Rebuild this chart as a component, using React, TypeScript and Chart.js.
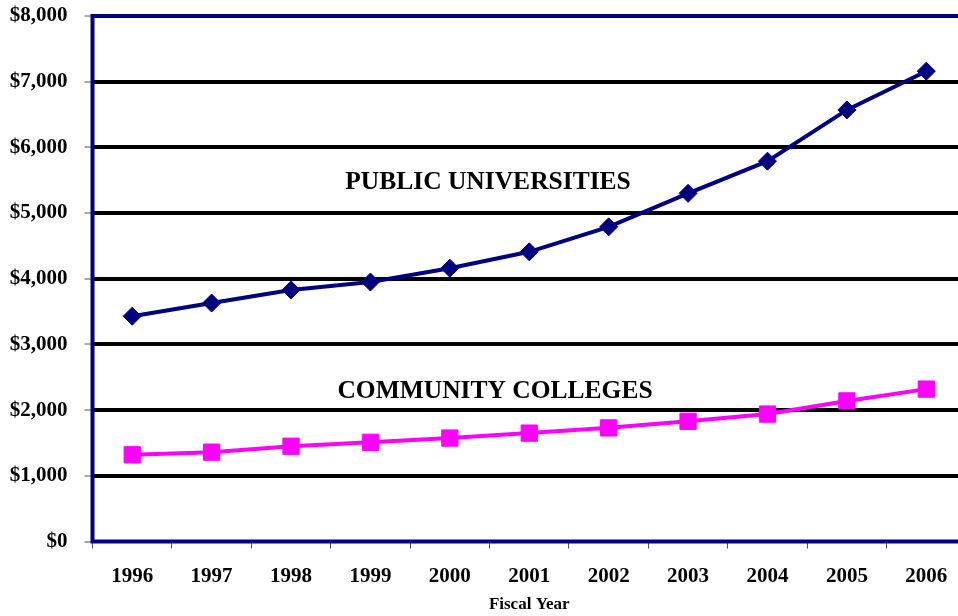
import React, { useEffect, useRef } from "react";
import { Chart, registerables } from "chart.js";

Chart.register(...registerables);

const years = ["1996", "1997", "1998", "1999", "2000", "2001", "2002", "2003", "2004", "2005", "2006"];
const publicUniversities = [3430, 3630, 3830, 3950, 4160, 4410, 4790, 5300, 5790, 6570, 7160];
const communityColleges = [1320, 1360, 1450, 1510, 1575, 1650, 1730, 1830, 1940, 2140, 2320];
const yTickValues = [0, 1000, 2000, 3000, 4000, 5000, 6000, 7000, 8000];
const seriesLabels = ["PUBLIC UNIVERSITIES", "COMMUNITY COLLEGES"];
const xAxisTitle = "Fiscal Year";

const SERIF = '"Liberation Serif", "Times New Roman", serif';

const framePlugin = {
  id: "frame",
  beforeDatasetsDraw(chart: any) {
    const { ctx, chartArea } = chart;
    ctx.save();
    ctx.strokeStyle = "#000080";
    ctx.lineWidth = 4;
    ctx.strokeRect(chartArea.left, chartArea.top, chartArea.right - chartArea.left, chartArea.bottom - chartArea.top);
    ctx.restore();
  },
  afterDraw(chart: any) {
    const { ctx } = chart;
    ctx.save();
    ctx.fillStyle = "#000000";
    ctx.font = `bold 25.5px ${SERIF}`;
    ctx.textAlign = "center";
    ctx.textBaseline = "middle";
    ctx.fillText(seriesLabels[0], 488, 182);
    ctx.fillText(seriesLabels[1], 495, 391);
    ctx.restore();
  },
};

export default function App() {
  const ref = useRef<HTMLCanvasElement>(null);
  useEffect(() => {
    if (!ref.current) return;
    const chart = new Chart(ref.current, {
      type: "line",
      data: {
        labels: years,
        datasets: [
          {
            label: seriesLabels[0],
            data: publicUniversities,
            borderColor: "#000080",
            backgroundColor: "#000080",
            borderWidth: 4,
            pointStyle: "rectRot",
            pointRadius: 9,
            pointBorderWidth: 1,
            pointBorderColor: "#000080",
            pointBackgroundColor: "#000080",
            tension: 0,
          },
          {
            label: seriesLabels[1],
            data: communityColleges,
            borderColor: "#FF00FF",
            backgroundColor: "#FF00FF",
            borderWidth: 4,
            pointStyle: "rect",
            pointRadius: 11.5,
            pointBorderWidth: 1,
            pointBorderColor: "#FF00FF",
            pointBackgroundColor: "#FF00FF",
            tension: 0,
          },
        ],
      },
      options: {
        animation: false,
        responsive: false,
        maintainAspectRatio: false,
        layout: { padding: { left: 0, top: 16, right: 14, bottom: 0 } },
        plugins: { legend: { display: false }, tooltip: { enabled: false } },
        scales: {
          x: {
            type: "category",
            offset: true,
            afterFit: (s: any) => {
              s.height = 74.5;
              s.paddingLeft = 0;
              s.paddingRight = 0;
            },
            grid: {
              offset: true,
              drawOnChartArea: false,
              drawTicks: true,
              tickLength: 7,
              tickColor: "#555555",
              tickWidth: 1,
            },
            border: { display: false },
            ticks: {
              color: "#000000",
              font: { family: SERIF, size: 21, weight: "bold" },
              padding: 15,
              maxRotation: 0,
            },
            title: {
              display: true,
              text: xAxisTitle,
              color: "#000000",
              font: { family: SERIF, size: 17, weight: "bold" },
              padding: { top: 0, bottom: 1 },
            },
          },
          y: {
            min: 0,
            max: 8000,
            afterFit: (s: any) => {
              s.width = 92.5;
              s.paddingTop = 0;
              s.paddingBottom = 0;
            },
            afterBuildTicks: (s: any) => {
              s.ticks = yTickValues.map((v) => ({ value: v }));
            },
            grid: {
              color: (c: any) =>
                c.tick && (c.tick.value === 0 || c.tick.value === 8000) ? "rgba(0,0,0,0)" : "#000000",
              lineWidth: 4,
              drawTicks: true,
              tickLength: 8,
              tickColor: "#555555",
              tickWidth: 1,
            },
            border: { display: false },
            ticks: {
              color: "#000000",
              font: { family: SERIF, size: 21, weight: "bold" },
              padding: 17,
              callback: (v: any) => "$" + Number(v).toLocaleString("en-US"),
            },
          },
        },
      },
      plugins: [framePlugin],
    });
    return () => chart.destroy();
  }, []);
  return (
    <div style={{ position: "fixed", left: 0, top: 0, width: 958, height: 616, overflow: "hidden", background: "#fff" }}>
      <canvas ref={ref} width={980} height={616} style={{ display: "block", width: 980, height: 616 }} />
    </div>
  );
}
